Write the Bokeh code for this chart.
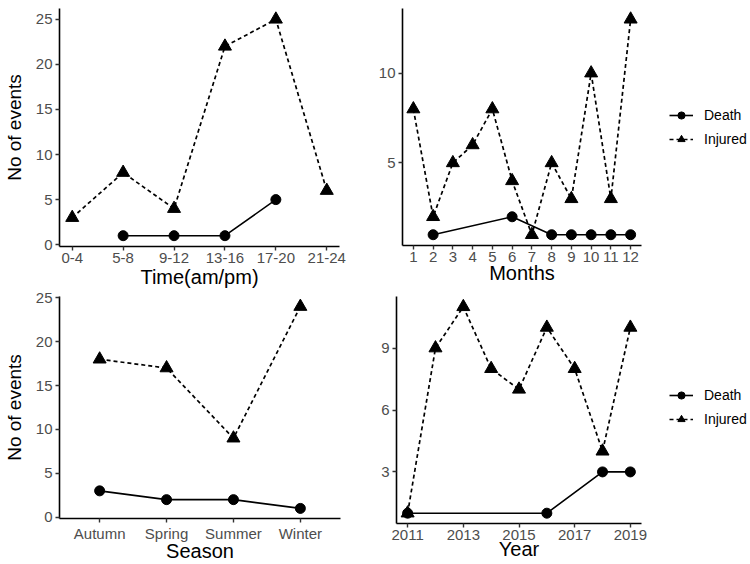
import numpy as np
from bokeh.plotting import figure
from bokeh.layouts import column, row
from bokeh.models import FixedTicker, Range1d, Legend, LegendItem
from bokeh.embed import file_html
from bokeh.resources import INLINE

# ---------------- data ----------------
time_labels = ["0-4", "5-8", "9-12", "13-16", "17-20", "21-24"]
time_pos = [1, 2, 3, 4, 5, 6]
time_injured = [3, 8, 4, 22, 25, 6]
time_death = [np.nan, 1, 1, 1, 5, np.nan]

months = [1, 2, 3, 4, 5, 6, 7, 8, 9, 10, 11, 12]
month_injured = [8, 2, 5, 6, 8, 4, 1, 5, 3, 10, 3, 13]
month_death_x = [2, 6, 8, 9, 10, 11, 12]
month_death = [1, 2, 1, 1, 1, 1, 1]

seasons = ["Autumn", "Spring", "Summer", "Winter"]
season_pos = [1, 2, 3, 4]
season_injured = [18, 17, 9, 24]
season_death = [3, 2, 2, 1]

years = [2011, 2012, 2013, 2014, 2015, 2016, 2017, 2018, 2019]
year_ticks = [2011, 2013, 2015, 2017, 2019]
year_injured = [1, 9, 11, 8, 7, 10, 8, 4, 10]
year_death_x = [2011, 2016, 2018, 2019]
year_death = [1, 1, 3, 3]

FONT = "Liberation Sans"
TICK_COLOR = "#4D4D4D"


def make_fig(xr, yr, fw, fh, bl, br, bt, bb, xticks, yticks, xlabel, ylabel,
             overrides=None, title_standoff=0):
    p = figure(frame_width=fw, frame_height=fh, x_range=Range1d(*xr), y_range=Range1d(*yr),
               output_backend="svg", toolbar_location=None,
               min_border_left=bl, min_border_right=br, min_border_top=bt, min_border_bottom=bb,
               background_fill_color="white", border_fill_color="white")
    p.outline_line_color = None
    p.xgrid.visible = False
    p.ygrid.visible = False
    for ax in (p.xaxis[0], p.yaxis[0]):
        ax.axis_line_color = "black"
        ax.axis_line_width = 1.6
        ax.major_tick_line_color = "#333333"
        ax.major_tick_line_width = 1.4
        ax.major_tick_out = 4
        ax.major_tick_in = 0
        ax.minor_tick_line_color = None
        ax.major_label_text_font = FONT
        ax.major_label_text_font_size = "15px"
        ax.major_label_text_color = TICK_COLOR
        ax.axis_label_text_font = FONT
        ax.axis_label_text_font_style = "normal"
        ax.axis_label_text_color = "black"
    p.xaxis.ticker = FixedTicker(ticks=xticks)
    p.yaxis.ticker = FixedTicker(ticks=yticks)
    p.xaxis.major_label_standoff = 2
    p.yaxis.major_label_standoff = 3
    p.xaxis.axis_label = xlabel
    p.xaxis.axis_label_text_font_size = "20px"
    p.xaxis.axis_label_standoff = title_standoff
    if ylabel:
        p.yaxis.axis_label = ylabel
        p.yaxis.axis_label_text_font_size = "19px"
        p.yaxis.axis_label_standoff = 8
    if overrides:
        p.xaxis.major_label_overrides = overrides
    return p


def add_series(p, xi, yi, xd, yd):
    ld = p.line(xd, yd, line_color="black", line_width=1.6)
    sd = p.scatter(xd, yd, marker="circle", size=10, fill_color="black", line_color="black")
    li = p.line(xi, yi, line_color="black", line_width=1.7, line_dash="4 3")
    si = p.scatter(xi, yi, marker="triangle", size=13, fill_color="black", line_color="black")
    return ld, sd, li, si


def add_legend(p, rs, loc):
    ld, sd, li, si = rs
    leg = Legend(items=[LegendItem(label="Death", renderers=[ld, sd]),
                        LegendItem(label="Injured", renderers=[li, si])],
                 location=loc, orientation="vertical")
    leg.border_line_color = None
    leg.background_fill_alpha = 0
    leg.padding = 0
    leg.margin = 0
    leg.spacing = 6
    leg.glyph_width = 24
    leg.glyph_height = 18
    leg.label_height = 18
    leg.label_standoff = 11
    leg.label_text_font = FONT
    leg.label_text_font_size = "14px"
    leg.label_text_color = "black"
    p.add_layout(leg, "right")


# top-left: time of day
p1 = make_fig((0.75, 6.25), (-0.2, 26.2), 280, 238, 57, 11, 8, 42,
              time_pos, [0, 5, 10, 15, 20, 25], "Time(am/pm)", "No of events",
              {pos: lab for pos, lab in zip(time_pos, time_labels)}, title_standoff=0)
add_series(p1, time_pos, time_injured, time_pos, time_death)

# top-right: months
p2 = make_fig((0.45, 12.55), (0.4, 13.6), 239, 237, 52, 111, 1, 50,
              months, [5, 10], "Months", None, title_standoff=-3)
r2 = add_series(p2, months, month_injured, month_death_x, month_death)
add_legend(p2, r2, (28, 97))

# bottom-left: season
p3 = make_fig((0.4, 4.6), (-0.15, 25.15), 281, 222, 57, 10, 6, 48,
              season_pos, [0, 5, 10, 15, 20, 25], "Season", "No of events",
              {pos: lab for pos, lab in zip(season_pos, seasons)}, title_standoff=-5)
add_series(p3, season_pos, season_injured, season_pos, season_death)

# bottom-right: year
p4 = make_fig((2010.6, 2019.4), (0.5, 11.5), 245, 227, 46, 111, 1, 48,
              year_ticks, [3, 6, 9], "Year", None, title_standoff=-5)
r4 = add_series(p4, years, year_injured, year_death_x, year_death)
add_legend(p4, r4, (28, 95))

layout = column(row(p1, p2, spacing=0), row(p3, p4, spacing=0), spacing=0)

open("out.html", "w").write(file_html(layout, INLINE))
